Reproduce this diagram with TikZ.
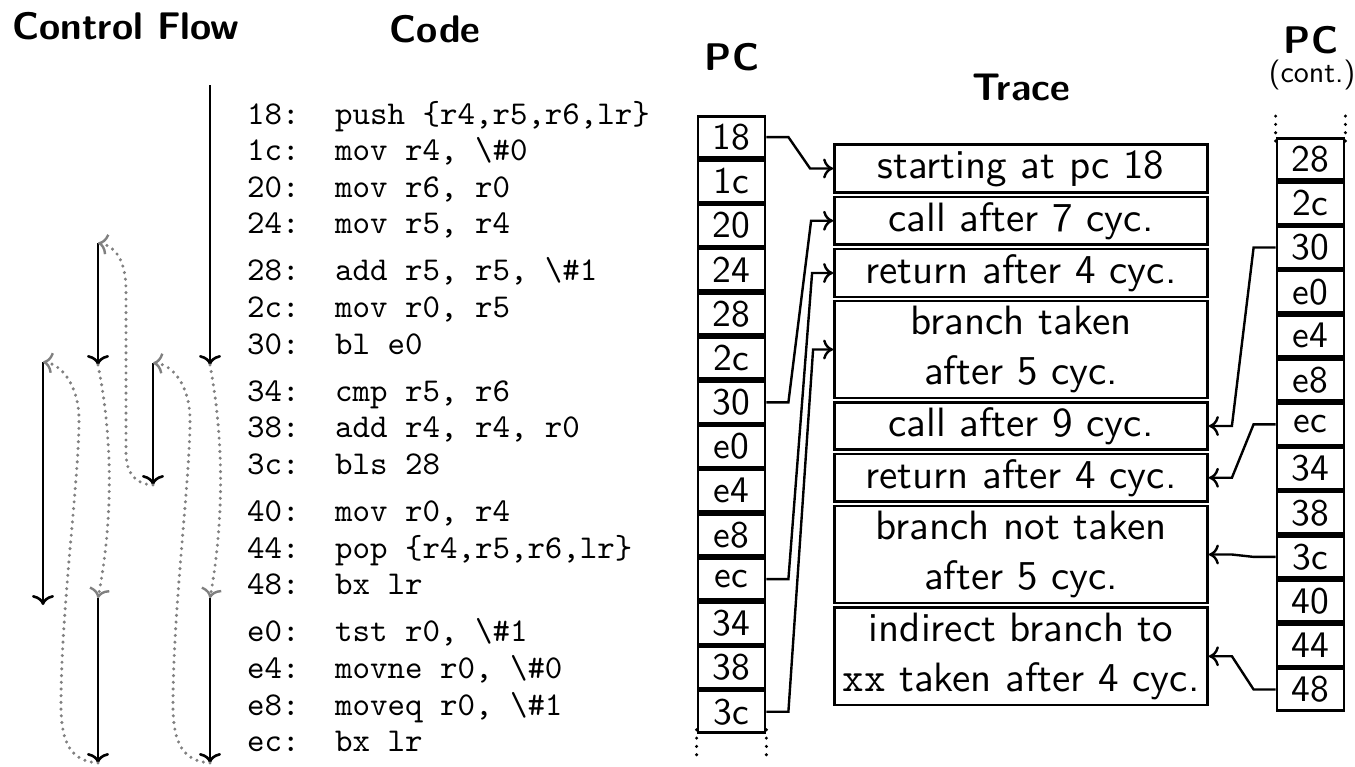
\documentclass[tikz,border=0pt]{standalone}
\usepackage{fontspec}
% 10pt design sizes of Latin Modern, scaled up
\setsansfont{lmsans10-regular.otf}[BoldFont=lmsans10-bold.otf]
\setmonofont{lmmono10-regular.otf}
\usetikzlibrary{arrows.meta}
\begin{document}
\begin{tikzpicture}[x=1pt,y=-1pt,
  title/.style={inner sep=0pt, font=\sffamily\bfseries\fontsize{38.5}{46}\selectfont},
  code/.style={inner sep=0pt, anchor=base west, font=\ttfamily\fontsize{33.3}{40}\selectfont},
  flow/.style={line width=2.6pt, -{To[length=10pt,width=22pt]}},
  jump/.style={line width=3.4pt, draw=black!50, line cap=round, dash pattern=on 0pt off 6.7pt,
               -{To[length=10pt,width=22pt,line width=2.4pt,line cap=butt]}},
  pcbox/.style={draw, line width=2.8pt, minimum width=67pt, minimum height=41.4pt, inner sep=0pt, font=\sffamily\fontsize{37.5}{44}\selectfont},
  trbox/.style={draw, line width=2.8pt, minimum width=373pt, inner sep=0pt, align=center, font=\sffamily\fontsize{41}{50}\selectfont},
  link/.style={line width=2.4pt, -{To[length=10pt,width=20pt]}},
  cont/.style={line width=3.4pt, line cap=round, dash pattern=on 0pt off 8.3pt},
]
\useasboundingbox (0,0) rectangle (1355,766);

% ---------- headings ----------
\node[title] (hflow)  at (126,26)  {Control Flow};
\node[title] (hcode)  at (435,29)  {Code};
\node[title] (hpc)    at (732,57)  {PC};
\node[title] (htrace) at (1021,87) {Trace};
\node[title] (hpc2)   at (1311,40) {PC};
\node[inner sep=0pt, font=\sffamily\fontsize{30}{34}\selectfont] (hcont) at (1312,75) {(cont.)};

% ---------- code listing ----------
\node[code] (a18) at (247,124)   {18:}; \node[code] (i18) at (335,124)   {push \{r4,r5,r6,lr\}};
\node[code] (a1c) at (247,160.6) {1c:}; \node[code] (i1c) at (335,160.6) {mov r4, \textbackslash\#0};
\node[code] (a20) at (247,197.2) {20:}; \node[code] (i20) at (335,197.2) {mov r6, r0};
\node[code] (a24) at (247,233.8) {24:}; \node[code] (i24) at (335,233.8) {mov r5, r4};
\node[code] (a28) at (247,280.9) {28:}; \node[code] (i28) at (335,280.9) {add r5, r5, \textbackslash\#1};
\node[code] (a2c) at (247,317.5) {2c:}; \node[code] (i2c) at (335,317.5) {mov r0, r5};
\node[code] (a30) at (247,354.1) {30:}; \node[code] (i30) at (335,354.1) {bl e0};
\node[code] (a34) at (247,401.2) {34:}; \node[code] (i34) at (335,401.2) {cmp r5, r6};
\node[code] (a38) at (247,437.8) {38:}; \node[code] (i38) at (335,437.8) {add r4, r4, r0};
\node[code] (a3c) at (247,474.4) {3c:}; \node[code] (i3c) at (335,474.4) {bls 28};
\node[code] (a40) at (247,521.5) {40:}; \node[code] (i40) at (335,521.5) {mov r0, r4};
\node[code] (a44) at (247,558.1) {44:}; \node[code] (i44) at (335,558.1) {pop \{r4,r5,r6,lr\}};
\node[code] (a48) at (247,594.7) {48:}; \node[code] (i48) at (335,594.7) {bx lr};
\node[code] (ae0) at (247,641.8) {e0:}; \node[code] (ie0) at (335,641.8) {tst r0, \textbackslash\#1};
\node[code] (ae4) at (247,678.4) {e4:}; \node[code] (ie4) at (335,678.4) {movne r0, \textbackslash\#0};
\node[code] (ae8) at (247,715)   {e8:}; \node[code] (ie8) at (335,715)   {moveq r0, \textbackslash\#1};
\node[code] (aec) at (247,751.6) {ec:}; \node[code] (iec) at (335,751.6) {bx lr};

% ---------- control flow ----------
\coordinate (f1s) at (210,85);  \coordinate (f1e) at (210,365);
\coordinate (f2s) at (210,598); \coordinate (f2e) at (210,763);
\coordinate (f3s) at (153,363); \coordinate (f3e) at (153,485);
\coordinate (f4s) at (98,243);  \coordinate (f4e) at (98,365);
\coordinate (f5s) at (98,598);  \coordinate (f5e) at (98,763);
\coordinate (f6s) at (43,362);  \coordinate (f6e) at (43,605);

\draw[flow] (f1s) -- (f1e);
\draw[flow] (f2s) -- (f2e);
\draw[flow] (f3s) -- (f3e);
\draw[flow] (f4s) -- (f4e);
\draw[flow] (f5s) -- (f5e);
\draw[flow] (f6s) -- (f6e);

% call bl e0 (first pass)
\draw[jump] (f1e) .. controls (224,440) and (224,520) .. (f2s);
% return to 34
\draw[jump] (f2e) .. controls (184,761) and (173,745) .. (173,705)
  .. controls (173,610) and (190,480) .. (190,420)
  .. controls (190,385) and (172,364) .. (f3s);
% bls 28 taken
\draw[jump] (f3e) .. controls (134,484) and (126,472) .. (126,452) -- (126,290)
  .. controls (126,262) and (116,246) .. (f4s);
% call bl e0 (second pass)
\draw[jump] (f4e) .. controls (113,440) and (113,520) .. (f5s);
% return to 34
\draw[jump] (f5e) .. controls (72,761) and (61,745) .. (61,705)
  .. controls (61,610) and (79,480) .. (79,420)
  .. controls (79,385) and (61,364) .. (f6s);

% ---------- PC column ----------
\foreach \v [count=\i from 0] in {18,1c,20,24,28,2c,30,e0,e4,e8,ec,34,38,3c}
  \node[pcbox] (p\v) at ({731.5},{137.1+44.2*\i}) {\v};
\draw[cont] ([yshift=4pt]p3c.south west) -- ++(0,30);
\draw[cont] ([yshift=4pt]p3c.south east) -- ++(0,30);

% ---------- PC column (continued) ----------
\foreach \v [count=\i from 0] in {28,2c,30,e0,e4,e8,ec,34,38,3c,40,44,48}
  \node[pcbox] (q\v) at ({1310.5},{159.1+44.2*\i}) {\v};
\draw[cont] ([yshift=-4pt]q28.north west) -- ++(0,-25);
\draw[cont] ([yshift=-4pt]q28.north east) -- ++(0,-25);

% ---------- trace ----------
\node[trbox, minimum height=48pt] (t1) at (1021,168.5)  {starting at pc 18};
\node[trbox, minimum height=47.5pt] (t2) at (1021,220.75) {call after 7 cyc.};
\node[trbox, minimum height=48pt] (t3) at (1021,273)    {return after 4 cyc.};
\node[trbox, minimum height=97pt] (t4) at (1021,349.5)  {branch taken\\after 5 cyc.};
\node[trbox, minimum height=47pt] (t5) at (1021,426)    {call after 9 cyc.};
\node[trbox, minimum height=47.5pt] (t6) at (1021,477.75) {return after 4 cyc.};
\node[trbox, minimum height=97pt] (t7) at (1021,554.5)  {branch not taken\\after 5 cyc.};
\node[trbox, minimum height=97.5pt] (t8) at (1021,656.25) {indirect branch to\\\texttt{xx} taken after 4 cyc.};

% ---------- links PC -> trace ----------
\draw[link] (p18.east) -- ++(22,0) -- ([xshift=-23pt]t1.west) -- (t1.west);
\draw[link] (p30.east) -- ++(22,0) -- ([xshift=-22pt]t2.west) -- (t2.west);
\draw[link] (pec.east) -- ++(22,0) -- ([xshift=-21pt]t3.west) -- (t3.west);
\draw[link] (p3c.east) -- ++(22,0) -- ([xshift=-20pt]t4.west) -- (t4.west);

\draw[link] (q30.west) -- ++(-22,0) -- ([xshift=23pt]t5.east) -- (t5.east);
\draw[link] (qec.west) -- ++(-22,0) -- ([xshift=23pt]t6.east) -- (t6.east);
\draw[link] (q3c.west) -- ++(-22,0) -- ([xshift=23pt]t7.east) -- (t7.east);
\draw[link] (q48.west) -- ++(-22,0) -- ([xshift=23pt]t8.east) -- (t8.east);
\end{tikzpicture}
\end{document}
